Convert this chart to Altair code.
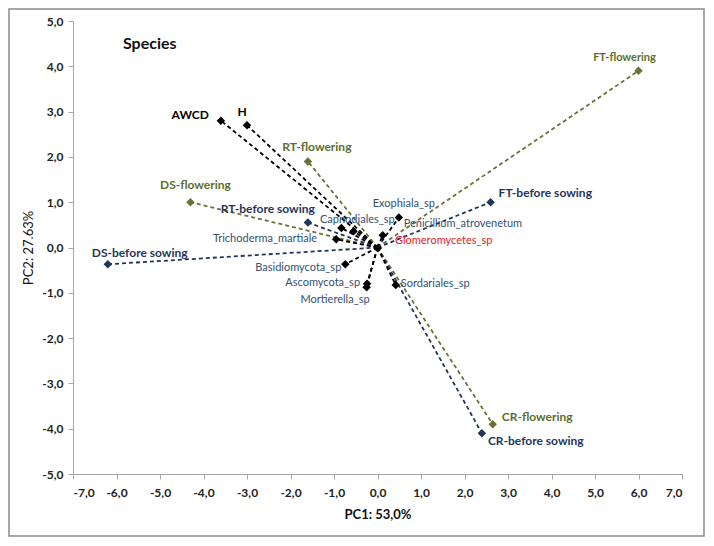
import altair as alt
import pandas as pd

# ---------------- data ----------------
var_names = ["AWCD", "H"]
var_pc1 = [-3.6, -3.0]
var_pc2 = [2.8, 2.7]

flower_names = ["RT-flowering", "DS-flowering", "FT-flowering", "CR-flowering"]
flower_pc1 = [-1.6, -4.3, 6.0, 2.65]
flower_pc2 = [1.9, 1.0, 3.9, -3.9]

before_names = ["RT-before sowing", "DS-before sowing", "FT-before sowing", "CR-before sowing"]
before_pc1 = [-1.6, -6.2, 2.6, 2.4]
before_pc2 = [0.55, -0.37, 1.0, -4.1]

species_names = ["Exophiala_sp", "Capnodiales_sp", "unlabelled_sp", "Penicillium_atrovenetum",
                 "Trichoderma_martiale", "Glomeromycetes_sp", "Basidiomycota_sp",
                 "Ascomycota_sp", "Mortierella_sp", "Sordariales_sp"]
species_pc1 = [0.49, -0.83, -0.55, 0.12, -0.95, 0.01, -0.74, -0.24, -0.25, 0.42]
species_pc2 = [0.66, 0.43, 0.36, 0.27, 0.18, -0.01, -0.37, -0.80, -0.88, -0.83]

tick_x = list(range(-7, 8))
tick_y = list(range(-5, 6))

# ---------------- tables ----------------
rows = []
for names, xs, ys, grp in [(var_names, var_pc1, var_pc2, "var"),
                           (flower_names, flower_pc1, flower_pc2, "flower"),
                           (before_names, before_pc1, before_pc2, "before"),
                           (species_names, species_pc1, species_pc2, "species")]:
    for n, x, y in zip(names, xs, ys):
        rows.append({"name": n, "group": grp, "pc1": x, "pc2": y})
pts = pd.DataFrame(rows)

line_rows = []
for r in rows:
    line_rows.append({"name": r["name"], "group": r["group"], "pc1": 0.0, "pc2": 0.0, "o": 0})
    line_rows.append({"name": r["name"], "group": r["group"], "pc1": r["pc1"], "pc2": r["pc2"], "o": 1})
lines = pd.DataFrame(line_rows)

# ---------------- styling ----------------
FONT = "Lato"
grp_domain = ["var", "species", "flower", "before"]
line_colors = ["#000000", "#000000", "#6b7138", "#1f3658"]
mark_colors = ["#000000", "#000000", "#4f6228", "#17375e"]

lbl = "replace(replace(format(datum.value, '.1f'), '.', ','), '\u2212', '-')"

xs = alt.Scale(domain=[-7, 7], nice=False, zero=False)
ys = alt.Scale(domain=[-5, 5], nice=False, zero=False)

x_axis = alt.Axis(values=tick_x, labelExpr=lbl, grid=False, title="PC1: 53,0%",
                  titleFontWeight="bold", titleFontSize=13, titleColor="#111",
                  titlePadding=10, labelPadding=8, tickSize=5)
y_axis = alt.Axis(values=tick_y, labelExpr=lbl, grid=False, title="PC2: 27.63%",
                  titleFontWeight="normal", titleFontSize=13, titleColor="#111",
                  titlePadding=6, labelPadding=5, tickSize=5)

base_lines = alt.Chart(lines).mark_line(strokeDash=[4, 3], strokeWidth=1.8).encode(
    x=alt.X("pc1:Q", scale=xs, axis=x_axis),
    y=alt.Y("pc2:Q", scale=ys, axis=y_axis),
    color=alt.Color("group:N", scale=alt.Scale(domain=grp_domain, range=line_colors), legend=None),
    detail="name:N",
    order="o:O",
)

markers = alt.Chart(pts).mark_point(shape="diamond", filled=True, size=72, opacity=1).encode(
    x=alt.X("pc1:Q", scale=xs),
    y=alt.Y("pc2:Q", scale=ys),
    color=alt.Color("group:N", scale=alt.Scale(domain=grp_domain, range=mark_colors), legend=None),
)

# label styling: (name, text colour, size, weight, align, dx, dy)
OLIVE = "#5b6e2c"
NAVY = "#1f3658"
SPC = "#34506f"
label_style = [
    ("AWCD", "#000000", 12, "bold", "right", -12, -6),
    ("H", "#000000", 12, "bold", "center", -5, -13),
    ("RT-flowering", OLIVE, 12, "bold", "center", 9, -14),
    ("DS-flowering", OLIVE, 12, "bold", "center", 5, -17),
    ("FT-flowering", OLIVE, 11, "bold", "center", -14, -13),
    ("CR-flowering", OLIVE, 12, "bold", "left", 9, -7),
    ("RT-before sowing", NAVY, 12, "bold", "right", 7, -14),
    ("DS-before sowing", NAVY, 12, "bold", "left", -16, -11),
    ("FT-before sowing", NAVY, 12, "bold", "left", 8, -9),
    ("CR-before sowing", NAVY, 12, "bold", "left", 6, 8),
    ("Exophiala_sp", SPC, 11, "normal", "center", 5, -14),
    ("Capnodiales_sp", SPC, 11, "normal", "center", 16, -8),
    ("Penicillium_atrovenetum", SPC, 11, "normal", "left", 21, -11),
    ("Trichoderma_martiale", SPC, 11, "normal", "right", -19, 0),
    ("Glomeromycetes_sp", "#e8201e", 11, "normal", "left", 17, -7),
    ("Basidiomycota_sp", SPC, 11, "normal", "right", -4, 4),
    ("Ascomycota_sp", SPC, 11, "normal", "right", -7, -1),
    ("Mortierella_sp", SPC, 11, "normal", "right", 3, 13),
    ("Sordariales_sp", SPC, 11, "normal", "left", 5, -1),
]

label_layers = []
for name, col, size, weight, align, dx, dy in label_style:
    label_layers.append(
        alt.Chart(pts[pts["name"] == name]).mark_text(
            color=col, fontSize=size, fontWeight=weight, align=align, baseline="middle",
            dx=dx, dy=dy, font=FONT,
        ).encode(
            x=alt.X("pc1:Q", scale=xs),
            y=alt.Y("pc2:Q", scale=ys),
            text="name:N",
        )
    )

species_title = alt.Chart(pd.DataFrame({"t": ["Species"]})).mark_text(
    align="left", baseline="middle", fontSize=16, fontWeight="bold", font=FONT, color="#111"
).encode(x=alt.value(50), y=alt.value(23), text="t:N")

border = alt.Chart(pd.DataFrame({"t": [0]})).mark_rect(
    filled=False, stroke="#8a8a8a", strokeWidth=1.5
).encode(x=alt.value(-64), x2=alt.value(631), y=alt.value(-12), y2=alt.value(515))

chart = alt.layer(border, base_lines, markers, species_title, *label_layers).properties(
    width=609, height=453,
    autosize=alt.AutoSizeParams(type="none"),
    padding={"left": 65, "top": 13, "right": 24, "bottom": 64},
).configure_view(stroke=None).configure_axis(
    domainColor="#a6a6a6", tickColor="#a6a6a6", labelFont=FONT, titleFont=FONT,
    labelFontWeight="bold", labelFontSize=12, labelColor="#222",
)

chart.save("out.html", embed_options={"renderer": "svg", "actions": False})
